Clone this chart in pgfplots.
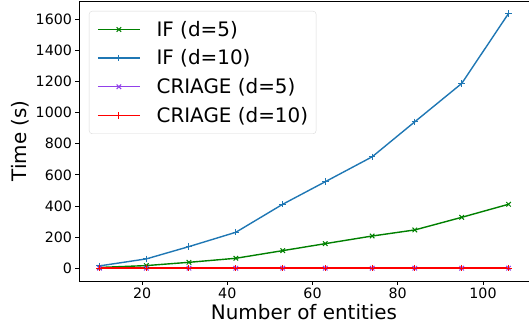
\documentclass[border=0pt]{standalone}
\usepackage{fontspec}
\setmainfont{DejaVu Sans}
\usepackage{pgfplots}
\pgfplotsset{compat=1.18}
\definecolor{mgreen}{HTML}{008000}
\definecolor{mblue}{HTML}{1F77B4}
\definecolor{mpurple}{HTML}{9140EA}
\definecolor{mred}{HTML}{FF0000}
\begin{document}
\begin{tikzpicture}
\begin{axis}[
  at={(0,0)}, anchor=south west,
  scale only axis, width=450bp, height=280bp,
  xmin=5.2, xmax=110.8, ymin=-82, ymax=1717,
  xtick={20,40,60,80,100}, ytick={0,200,400,600,800,1000,1200,1400,1600},
  xtick pos=bottom, ytick pos=left,
  tick align=outside, major tick length=3.5bp,
  tick style={black, line width=0.8bp},
  axis line style={line width=0.8bp},
  /pgf/number format/assume math mode=true,
  /pgf/number format/1000 sep={},
  ticklabel style={font=\fontsize{14.3}{16}\selectfont},
  xlabel={Number of entities}, ylabel={Time (s)},
  every axis x label/.style={at={(axis description cs:0.5,-0.1107)}, anchor=center, font=\fontsize{20}{24}\selectfont},
  every axis y label/.style={at={(axis description cs:-0.1311,0.5)}, anchor=center, rotate=90, font=\fontsize{20}{24}\selectfont},
  legend style={at={(0,1)}, anchor=north west, xshift=10bp, yshift=-10bp,
    draw=black!15, fill=white, fill opacity=0.8, text opacity=1, rounded corners=3bp,
    font=\fontsize{20}{24}\selectfont, row sep=12bp, inner xsep=8bp, inner ysep=10bp,
    nodes={inner sep=0bp},
    /tikz/every odd column/.append style={column sep=16bp}},
  legend cell align=left,
  legend image code/.code={\draw[mark repeat=2,mark phase=2] plot coordinates {(0bp,0bp)(21bp,0bp)(42bp,0bp)};},
  every axis plot/.append style={line width=1.4bp},
  clip=false,
]
\addplot[mgreen, mark=x, mark size=3.2bp, mark options={line width=1bp}] coordinates {
(10,5) (21,17) (31,38) (42,64) (53,113) (63,158) (74,207) (84,246) (95,327) (106,411)};
\addlegendentry{IF (d=5)}
\addplot[mblue, mark=+, mark size=3.2bp, mark options={line width=1bp}] coordinates {
(10,15) (21,60) (31,139) (42,231) (53,411) (63,556) (74,716) (84,941) (95,1187) (106,1637)};
\addlegendentry{IF (d=10)}
\addplot[mpurple, mark=x, mark size=3.2bp, mark options={line width=1bp}] coordinates {
(10,0.5) (21,0.5) (31,0.5) (42,0.5) (53,0.5) (63,0.5) (74,0.5) (84,0.5) (95,0.5) (106,0.5)};
\addlegendentry{CRIAGE (d=5)}
\addplot[mred, mark=+, mark size=3.2bp, mark options={line width=1bp}] coordinates {
(10,1) (21,1) (31,1) (42,1) (53,1) (63,1) (74,1) (84,1) (95,1) (106,1)};
\addlegendentry{CRIAGE (d=10)}
\end{axis}
\pgfresetboundingbox
\useasboundingbox (-79bp,-46bp) rectangle (450bp,281bp);
\end{tikzpicture}
\end{document}
